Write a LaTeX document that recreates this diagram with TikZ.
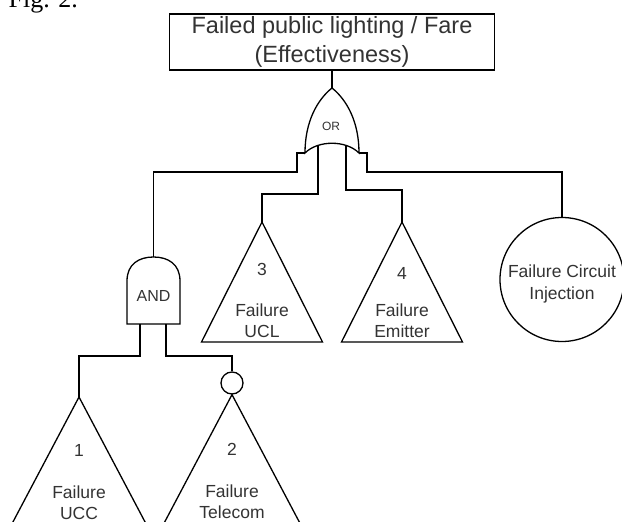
\documentclass[tikz,border=0pt]{standalone}
\usepackage{fontspec}
\setmainfont{Liberation Sans}
\newfontfamily\seriffont{Liberation Serif}
\begin{document}
\begin{tikzpicture}[x=1pt,y=-1pt, line width=1.3pt, line join=miter,
  lbl/.style={font=\fontsize{17.5}{21}\selectfont, text=black!80, inner sep=0pt},
  gatelbl/.style={text=black!80, inner sep=0pt},
  circ/.style={draw, circle, inner sep=0pt}]
\useasboundingbox (0,0) rectangle (622,522);
\clip (0,0) rectangle (622,522);
\node[anchor=base west, font=\seriffont\fontsize{26}{30}\selectfont, inner sep=0pt] (fig) at (8,7) {Fig. 2.};

\node[draw, minimum width=325pt, minimum height=56pt, inner sep=0pt, align=center,
      font=\fontsize{23.5}{29}\selectfont, text=black!80] (top) at (332,42)
      {Failed public lighting / Fare\\(Effectiveness)};

% OR gate
\coordinate (orT) at (332,88);
\coordinate (orL) at (305,153);
\coordinate (orR) at (359,153);
\coordinate (orLi) at (318,146);
\coordinate (orRi) at (346,146);
\draw (orL) .. controls (305,122) and (317,100) .. (orT)
      .. controls (347,100) and (359,122) .. (orR)
      .. controls (346,140) and (318,140) .. cycle;
\node[gatelbl, font=\fontsize{12}{14}\selectfont] (orlbl) at (331,126) {OR};

% AND gate
\coordinate (andT) at (153.5,257);
\coordinate (andL) at (140,324);
\coordinate (andR) at (166,324);
\draw (127,324) -- (127,281) .. controls (127,264) and (139,257) .. (andT)
      .. controls (168,257) and (180,264) .. (180,281) -- (180,324) -- cycle;
\node[gatelbl, font=\fontsize{16}{18}\selectfont] (andlbl) at (153.5,296) {AND};

% events
\coordinate (t1) at (79,397);
\node[circ, minimum size=22pt] (neg) at (232,383) {};
\coordinate (t3) at (262,222);
\coordinate (t4) at (402,222);
\node[circ, minimum size=124pt] (ci) at (562,279.5) {};

\draw (t3) -- ++(-60.5,120) -- ++(121,0) -- cycle;
\draw (t4) -- ++(-60.5,120) -- ++(121,0) -- cycle;
\draw (t1) -- ++(-74,140) -- ++(148,0) -- cycle;
\draw (neg.south) -- ++(-74,140) -- ++(148,0) -- cycle;

% connectors
\draw (top.south) -- (orT);
\draw (orL) -- ++(-8,0) -- ++(0,19) -| (andT);
\draw (orR) -- ++(8,0) -- ++(0,19) -| (ci.north);
\draw (orLi) -- ++(0,48) -| (t3);
\draw (orRi) -- ++(0,44) -| (t4);
\draw (andL) -- ++(0,32) -| (t1);
\draw (andR) -- ++(0,32) -| (neg.north);

% labels
\node[lbl] (n3) at (262,269) {3};
\node[lbl] (f3) at (262,310) {Failure};
\node[lbl] (u3) at (262,331) {UCL};
\node[lbl] (n4) at (402,273) {4};
\node[lbl] (f4) at (402,310) {Failure};
\node[lbl] (e4) at (402,331) {Emitter};
\node[lbl] (n1) at (79,450) {1};
\node[lbl] (f1) at (79,492) {Failure};
\node[lbl] (u1) at (79,513) {UCC};
\node[lbl] (n2) at (232,449) {2};
\node[lbl] (f2) at (232,491) {Failure};
\node[lbl] (tc2) at (232,512) {Telecom};
\node[lbl, align=center, font=\fontsize{17.5}{22}\selectfont] (cit) at (562,284) {Failure Circuit\\Injection};
\end{tikzpicture}
\end{document}
